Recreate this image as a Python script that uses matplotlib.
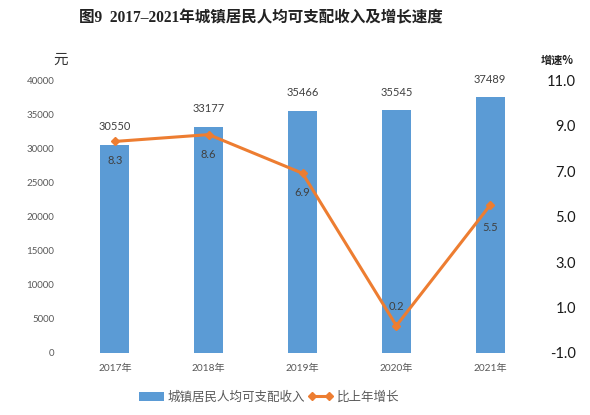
import numpy as np
import matplotlib.pyplot as plt
from matplotlib.lines import Line2D
from matplotlib.patches import Patch

years = ['2017年', '2018年', '2019年', '2020年', '2021年']
income = [30550, 33177, 35466, 35545, 37489]
growth = [8.3, 8.6, 6.9, 0.2, 5.5]
left_ticks = [0, 5000, 10000, 15000, 20000, 25000, 30000, 35000, 40000]
right_ticks = [-1.0, 1.0, 3.0, 5.0, 7.0, 9.0, 11.0]

BLUE = '#5B9BD5'
ORANGE = '#ED7D31'
NUM = ['Lato', 'Noto Sans CJK SC', 'DejaVu Sans']
CJK = ['Noto Sans CJK SC', 'DejaVu Sans']

plt.rcParams['font.family'] = NUM

fig = plt.figure(figsize=(5.9, 4.15), dpi=100)
ax = fig.add_axes([0.1153, 0.1494, 0.795, 0.6578])
x = np.arange(len(years))

bars = ax.bar(x, income, width=0.31, color=BLUE, zorder=2)
ax.set_xlim(-0.5, len(years) - 0.5)
ax.set_ylim(0, 40000)
ax.set_yticks(left_ticks)
ax.set_yticklabels([str(t) for t in left_ticks], fontsize=7, color='#595959')
ax.set_xticks(x)
ax.set_xticklabels(years, fontsize=7.3, color='#595959', family=NUM)
ax.tick_params(length=0, pad=10)
ax.tick_params(axis='x', pad=8)
for s in ax.spines.values():
    s.set_visible(False)

for xi, v in zip(x, income):
    ax.annotate(str(v), (xi, v), xytext=(0, 9), textcoords='offset points',
                ha='center', va='bottom', fontsize=8, color='#404040')

ax2 = ax.twinx()
ax2.plot(x, growth, color=ORANGE, lw=2.2, marker='D', markersize=4.5, zorder=3)
ax2.set_ylim(-1, 11)
ax2.set_yticks(right_ticks)
ax2.set_yticklabels([f'{t:.1f}' for t in right_ticks], fontsize=10.5,
                    color='#1a1a1a', ha='right')
ax2.tick_params(length=0, pad=28)
for s in ax2.spines.values():
    s.set_visible(False)

# growth labels: below point except 2020 (above)
offs = [-14, -14, -14, 14, -16]
for xi, g, o in zip(x, growth, offs):
    ax2.annotate(f'{g}', (xi, g), xytext=(0, o), textcoords='offset points',
                 ha='center', va='center', fontsize=8, color='#404040')

fig.text(0.442, 0.956, '图9  2017–2021年城镇居民人均可支配收入及增长速度',
         ha='center', va='center', fontsize=11.2, fontweight='bold',
         family=['Liberation Serif', 'Noto Sans CJK SC'], color='#222222')
fig.text(0.102, 0.855, '元', ha='center', va='center', fontsize=10.5,
         family=CJK, color='#333333')
fig.text(0.945, 0.855, '增速%', ha='center', va='center', fontsize=8,
         family=CJK, fontweight='bold', color='#222222')

handles = [Patch(facecolor=BLUE),
           Line2D([0], [0], color=ORANGE, lw=2.2, marker='D', markersize=4)]
fig.legend(handles, ['城镇居民人均可支配收入', '比上年增长'],
           loc='center', bbox_to_anchor=(0.456, 0.043), ncol=2, frameon=False,
           prop={'family': CJK, 'size': 9}, labelcolor='#595959',
           handlelength=2.0, handletextpad=0.3, columnspacing=0.2, numpoints=2)

plt.savefig('out.png', dpi=100)
